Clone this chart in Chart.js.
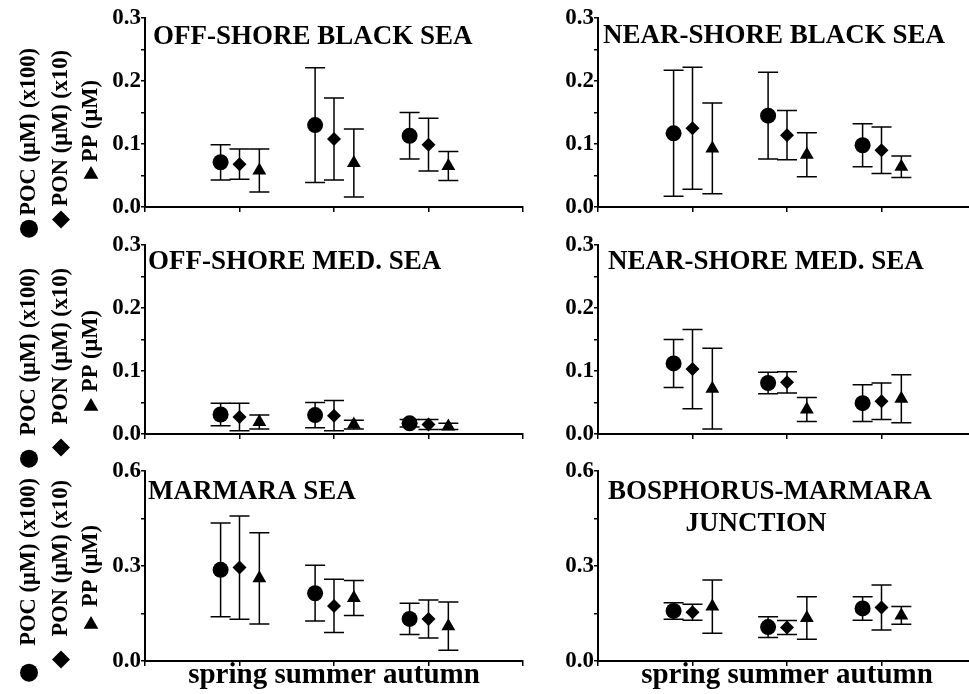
<!DOCTYPE html>
<html>
<head>
<meta charset="utf-8">
<script src="https://cdn.jsdelivr.net/npm/chart.js"></script>
<style>
  html, body { margin: 0; padding: 0; background: #fff; overflow: hidden; }
  #wrap { position: relative; width: 969px; height: 694px; overflow: hidden; }
  #wrap canvas { position: absolute; }
</style>
</head>
<body>
<div id="wrap"></div>
<script>
const seasons = ['spring', 'summer', 'autumn'];
const seriesNames = ['POC', 'PON', 'PP'];
const seriesStyles = ['circle', 'rectRot', 'triangle'];
const seriesRadius = [8, 7, 8];
const seriesShift = [-0.2, 0, 0.21];

// rows: POC (x100), PON (x10), PP ; columns: spring, summer, autumn
const offBlackMean = [[0.071, 0.130, 0.113], [0.068, 0.108, 0.099], [0.058, 0.070, 0.065]];
const offBlackSd = [[0.028, 0.091, 0.037], [0.024, 0.065, 0.042], [0.034, 0.054, 0.023]];
const nearBlackMean = [[0.117, 0.145, 0.098], [0.125, 0.114, 0.090], [0.093, 0.083, 0.064]];
const nearBlackSd = [[0.100, 0.069, 0.034], [0.097, 0.039, 0.037], [0.072, 0.035, 0.017]];
const offMedMean = [[0.031, 0.030, 0.017], [0.027, 0.029, 0.015], [0.019, 0.015, 0.012]];
const offMedSd = [[0.018, 0.020, 0.006], [0.022, 0.024, 0.008], [0.011, 0.007, 0.005]];
const nearMedMean = [[0.112, 0.081, 0.049], [0.103, 0.082, 0.052], [0.072, 0.039, 0.056]];
const nearMedSd = [[0.038, 0.017, 0.029], [0.063, 0.017, 0.029], [0.064, 0.019, 0.038]];
const marmaraMean = [[0.288, 0.214, 0.133], [0.295, 0.174, 0.133], [0.261, 0.199, 0.110]];
const marmaraSd = [[0.148, 0.088, 0.049], [0.163, 0.084, 0.060], [0.144, 0.055, 0.076]];
const bosphorusMean = [[0.158, 0.107, 0.166], [0.154, 0.106, 0.169], [0.172, 0.136, 0.144]];
const bosphorusSd = [[0.026, 0.033, 0.037], [0.025, 0.022, 0.071], [0.084, 0.067, 0.028]];

const yTicksLow = [0, 0.1, 0.2, 0.3];
const yTicksHigh = [0, 0.3, 0.6];
const yTitleLines = ['POC (\u03bcM) (x100)', 'PON (\u03bcM) (x10)', 'PP (\u03bcM)'];
const xTitle = seasons.join(' ');

const serif = "'Liberation Serif', 'Times New Roman', serif";
Chart.defaults.font.family = serif;
Chart.defaults.font.weight = 'bold';
Chart.defaults.color = '#000';

// geometry of the page
const rowTop = [18, 245, 471];
const plotH = [189, 189, 190];
const colCanvas = [{ left: 0, width: 540, axisW: 145 }, { left: 540, width: 449, axisW: 58 }];
const plotW = 378;
const extraBottom = 45;

const panels = [
  { row: 0, col: 0, mean: offBlackMean, sd: offBlackSd, ticks: yTicksLow,
    title: [{ t: 'OFF-SHORE BLACK SEA', x: 8, y: 26, a: 'left' }], yOff: [30, 32, 62], gap: [4, 4, 4] },
  { row: 0, col: 1, mean: nearBlackMean, sd: nearBlackSd, ticks: yTicksLow,
    title: [{ t: 'NEAR-SHORE BLACK SEA', x: 5, y: 25, a: 'left' }] },
  { row: 1, col: 0, mean: offMedMean, sd: offMedSd, ticks: yTicksLow,
    title: [{ t: 'OFF-SHORE MED. SEA', x: 3, y: 24, a: 'left' }], yOff: [23, 23, 65], gap: [14, 14, 6] },
  { row: 1, col: 1, mean: nearMedMean, sd: nearMedSd, ticks: yTicksLow,
    title: [{ t: 'NEAR-SHORE MED. SEA', x: 10, y: 24, a: 'left' }] },
  { row: 2, col: 0, mean: marmaraMean, sd: marmaraSd, ticks: yTicksHigh,
    title: [{ t: 'MARMARA SEA', x: 3, y: 28, a: 'left' }], yOff: [7, 9, 54], gap: [18, 14, 9] },
  { row: 2, col: 1, mean: bosphorusMean, sd: bosphorusSd, ticks: yTicksHigh,
    title: [{ t: 'BOSPHORUS-MARMARA', x: 172, y: 28, a: 'center' }, { t: 'JUNCTION', x: 158, y: 60, a: 'center' }] }
];

function marker(ctx, style, x, y, r) {
  ctx.beginPath();
  if (style === 'circle') {
    ctx.arc(x, y, r, 0, Math.PI * 2);
  } else if (style === 'rectRot') {
    ctx.moveTo(x, y - r); ctx.lineTo(x + r, y); ctx.lineTo(x, y + r); ctx.lineTo(x - r, y);
  } else {
    ctx.moveTo(x, y - r); ctx.lineTo(x + r * 0.866, y + r / 2); ctx.lineTo(x - r * 0.866, y + r / 2);
  }
  ctx.closePath();
  ctx.fill();
}

const errorBars = {
  id: 'errorBars',
  beforeDatasetsDraw(chart) {
    const ctx = chart.ctx, xs = chart.scales.x, ys = chart.scales.y;
    ctx.save();
    ctx.strokeStyle = '#000';
    ctx.lineWidth = 1.5;
    chart.data.datasets.forEach(ds => {
      ds.data.forEach((p, i) => {
        const x = xs.getPixelForValue(p.x);
        const top = ys.getPixelForValue(p.y + ds.errors[i]);
        const bot = ys.getPixelForValue(p.y - ds.errors[i]);
        ctx.beginPath();
        ctx.moveTo(x, top); ctx.lineTo(x, bot);
        ctx.moveTo(x - 10, top); ctx.lineTo(x + 10, top);
        ctx.moveTo(x - 10, bot); ctx.lineTo(x + 10, bot);
        ctx.stroke();
      });
    });
    ctx.restore();
  }
};

const panelText = {
  id: 'panelText',
  afterDraw(chart, args, opts) {
    const ctx = chart.ctx, area = chart.chartArea;
    ctx.save();
    ctx.fillStyle = '#000';
    ctx.font = 'bold 27px ' + serif;
    ctx.textBaseline = 'alphabetic';
    (opts.lines || []).forEach(l => {
      ctx.textAlign = l.a;
      ctx.fillText(l.t, area.left + l.x, area.top + l.y);
    });
    if (opts.yOff) {
      const cols = [29, 61, 91];
      const rad = [9, 9, 8.5];
      ctx.font = 'bold 22.5px ' + serif;
      yTitleLines.forEach((txt, i) => {
        const yEnd = area.top + opts.yOff[i];
        ctx.save();
        ctx.translate(cols[i], yEnd);
        ctx.rotate(-Math.PI / 2);
        ctx.textAlign = 'right';
        ctx.textBaseline = 'middle';
        ctx.fillText(txt, 0, 0);
        ctx.restore();
        const w = ctx.measureText(txt).width;
        marker(ctx, seriesStyles[i], cols[i], yEnd + w + opts.gap[i] + rad[i], rad[i]);
      });
    }
    ctx.restore();
  }
};

const wrap = document.getElementById('wrap');

panels.forEach(p => {
  const cc = colCanvas[p.col];
  const top = rowTop[p.row] - 18;
  const extra = p.row === 2 ? 0 : extraBottom;
  const h = p.row === 2 ? 694 - top : 226 + extra;
  const canvas = document.createElement('canvas');
  canvas.width = cc.width;
  canvas.height = h;
  canvas.style.left = cc.left + 'px';
  canvas.style.top = top + 'px';
  canvas.style.width = cc.width + 'px';
  canvas.style.height = h + 'px';
  wrap.appendChild(canvas);

  const majors = p.ticks;
  const datasets = seriesNames.map((name, s) => ({
    label: name,
    data: seasons.map((_, k) => ({ x: k + 1 + seriesShift[s], y: p.mean[s][k] })),
    errors: p.sd[s],
    pointStyle: seriesStyles[s],
    pointRadius: seriesRadius[s],
    pointBackgroundColor: '#000',
    pointBorderColor: '#000',
    pointBorderWidth: 0,
    showLine: false
  }));

  new Chart(canvas, {
    type: 'scatter',
    data: { datasets },
    options: {
      responsive: false,
      animation: false,
      devicePixelRatio: 1,
      clip: false,
      layout: {
        autoPadding: false,
        padding: { top: 18, left: 0, bottom: extra, right: cc.width - cc.axisW - plotW }
      },
      plugins: {
        legend: { display: false },
        tooltip: { enabled: false },
        panelText: { lines: p.title, yOff: p.yOff, gap: p.gap }
      },
      scales: {
        x: {
          type: 'linear',
          min: 0,
          max: 4,
          afterBuildTicks: s => { s.ticks = [0, 1, 2, 3, 4].map(v => ({ value: v })); },
          ticks: { callback: () => '' },
          grid: { drawOnChartArea: false, drawTicks: true, tickLength: 5, color: '#000', lineWidth: 1.5 },
          border: { color: '#000', width: 2 },
          title: {
            display: p.row === 2,
            text: xTitle,
            font: { size: 29, weight: 'bold', lineHeight: 1 },
            padding: { top: 0, bottom: 4 }
          },
          afterFit: s => { s.height = h - extra - 18 - plotH[p.row]; }
        },
        y: {
          type: 'linear',
          min: 0,
          max: majors[majors.length - 1],
          afterBuildTicks: s => {
            const t = [];
            majors.forEach((v, i) => {
              t.push({ value: v });
              if (i < majors.length - 1) t.push({ value: (v + majors[i + 1]) / 2 });
            });
            s.ticks = t;
          },
          ticks: {
            padding: 0,
            font: { size: 23, weight: 'bold' },
            callback: v => (majors.includes(v) ? v.toFixed(1) : '')
          },
          grid: { drawOnChartArea: false, drawTicks: true, tickLength: 4, color: '#000', lineWidth: 1.5 },
          border: { color: '#000', width: 2 },
          afterFit: s => { s.width = cc.axisW; }
        }
      }
    },
    plugins: [errorBars, panelText]
  });
});
</script>
</body>
</html>
